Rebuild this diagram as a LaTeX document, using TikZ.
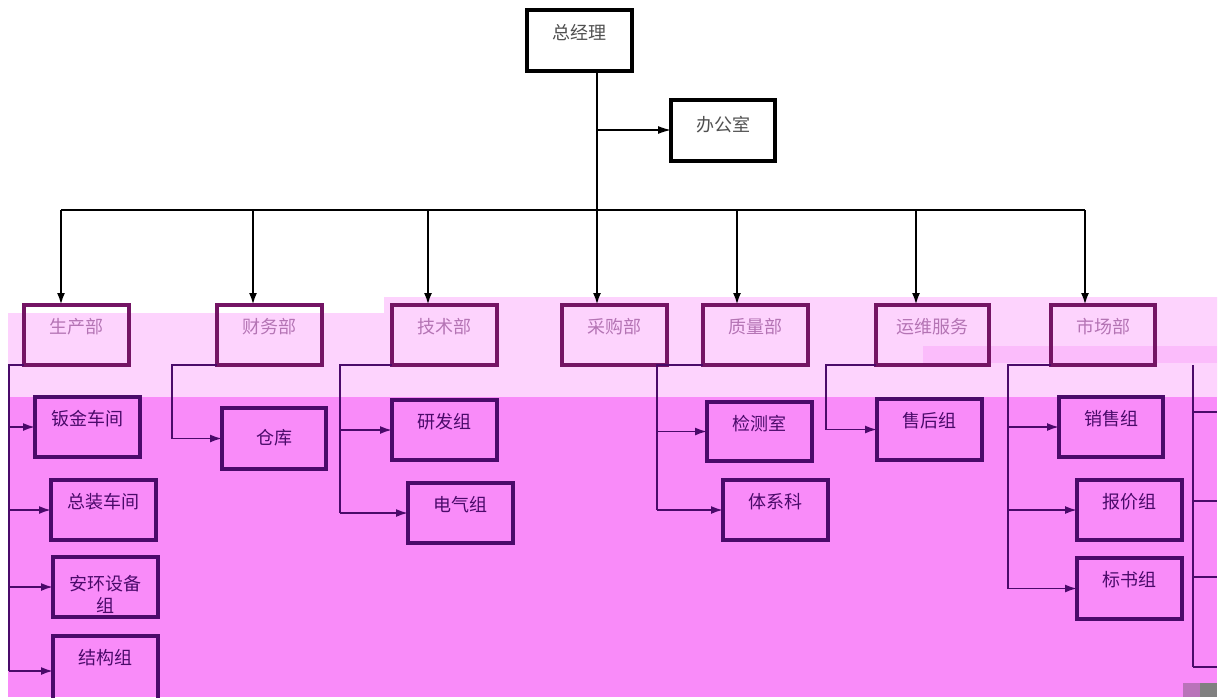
\documentclass[tikz,border=0pt]{standalone}
\usepackage{fontspec}
\newfontfamily\cjk{Noto Sans CJK SC}
\usetikzlibrary{arrows.meta}
\definecolor{lpink}{HTML}{FDD3FD}
\definecolor{mag}{HTML}{F98BF9}
\definecolor{pband}{HTML}{FBBCFB}
\definecolor{deep}{HTML}{4A0A6A}
\definecolor{dmaroon}{HTML}{741464}
\definecolor{fade}{HTML}{B474B4}
\definecolor{gtext}{HTML}{505050}
\begin{document}
\begin{tikzpicture}[x=1pt,y=-1pt,
  every node/.style={font=\cjk\fontsize{18}{22}\selectfont},
  box/.style={draw, rectangle, anchor=north west, minimum width=105pt, minimum height=60pt, inner sep=0pt, outer sep=0pt, line width=3.2pt},
  topbox/.style={box, draw=black},
  deptbox/.style={box, draw=dmaroon},
  kidbox/.style={box, draw=deep},
  toplab/.style={anchor=center, yshift=-23pt, text=gtext},
  deptlab/.style={anchor=center, yshift=-22pt, text=fade},
  kidlab/.style={anchor=center, yshift=-22pt, text=deep},
  blk/.style={draw=black, line width=2.8pt},
  blkarrow/.style={draw=black, line width=2.4pt, -{Latex[length=12pt,width=8pt]}},
  thinarrow/.style={draw=black, line width=1.4pt, -{Latex[length=13pt,width=8pt]}},
  stem/.style={draw=deep, line width=1.5pt},
  kidarrow/.style={draw=deep, line width=1.8pt, -{Latex[length=12pt,width=8pt]}},
]
\useasboundingbox (0,0) rectangle (1221,697);
% background bands
\fill[white] (0,0) rectangle (1221,697);
\fill[lpink] (8,313) -- (384,313) -- (384,297) -- (1217,297) -- (1217,397) -- (8,397) -- cycle;
\fill[pband] (923,346) rectangle (1217,363);
\fill[mag] (8,397) rectangle (1217,697);
\fill[violet!55] (1183,683) rectangle (1200,697);
\fill[gray] (1200,683) rectangle (1217,697);

% top level
\node[topbox, minimum height=61pt, label={[toplab]north:总经理}] (gm) at (527,10) {};
\node[topbox, minimum width=104pt, minimum height=61pt, label={[toplab, yshift=-2pt]north:办公室}] (off) at (671,100) {};

% departments
\node[deptbox, label={[deptlab]north:生产部}] (p1) at (24,305) {};
\node[deptbox, label={[deptlab]north:财务部}] (p2) at (217,305) {};
\node[deptbox, label={[deptlab]north:技术部}] (p3) at (392,305) {};
\node[deptbox, label={[deptlab]north:采购部}] (p4) at (562,305) {};
\node[deptbox, label={[deptlab]north:质量部}] (p5) at (703,305) {};
\node[deptbox, minimum width=113pt, label={[deptlab]north:运维服务}] (p6) at (876,305) {};
\node[deptbox, minimum width=104pt, label={[deptlab]north:市场部}] (p7) at (1051,305) {};

% children
\node[kidbox, label={[kidlab]north:钣金车间}] (c11) at (35,397) {};
\node[kidbox, label={[kidlab]north:总装车间}] (c12) at (51,480) {};
\node[kidbox, label={[kidlab, align=center, yshift=-15pt]north:安环设备\\组}] (c13) at (53,557) {};
\node[kidbox, minimum height=70pt, label={[kidlab]north:结构组}] (c14) at (53,636) {};
\node[kidbox, minimum width=104pt, minimum height=61pt, label={[kidlab, yshift=-8pt]north:仓库}] (c21) at (222,408) {};
\node[kidbox, label={[kidlab]north:研发组}] (c31) at (392,400) {};
\node[kidbox, label={[kidlab]north:电气组}] (c32) at (408,483) {};
\node[kidbox, minimum height=59pt, label={[kidlab]north:检测室}] (c51) at (707,402) {};
\node[kidbox, label={[kidlab]north:体系科}] (c52) at (723,480) {};
\node[kidbox, minimum height=61pt, label={[kidlab]north:售后组}] (c61) at (877,399) {};
\node[kidbox, minimum width=104pt, label={[kidlab]north:销售组}] (c71) at (1059,397) {};
\node[kidbox, label={[kidlab]north:报价组}] (c72) at (1077,480) {};
\node[kidbox, minimum height=61pt, label={[kidlab]north:标书组}] (c73) at (1077,558) {};

% top connectors
\coordinate (t0) at (597,210);
\coordinate (o0) at (597,130);
\draw[blk] (gm.south -| t0) -- (t0);
\draw[thinarrow] (o0) -- (o0 -| off.west);
\coordinate (d1) at (61,210);
\coordinate (d2) at (253,210);
\coordinate (d3) at (428,210);
\coordinate (d4) at (597,210);
\coordinate (d5) at (737,210);
\coordinate (d6) at (916,210);
\coordinate (d7) at (1085,210);
\draw[blk] (d1) -- (d7);
\foreach \i in {1,...,7} \draw[blkarrow] (d\i) -- (d\i |- p\i.north);

% stems
\coordinate (s1) at (9,365);
\coordinate (s2) at (172,365);
\coordinate (s3) at (340,365);
\coordinate (s5) at (657,365);
\coordinate (s6) at (826,365);
\coordinate (s7) at (1008,365);
\coordinate (s8) at (1193,365);
\draw[stem] (p1.south west) -- (s1 |- p1.south west) -- (s1 |- c14.west);
\foreach \c in {c11,c12,c13,c14} \draw[kidarrow] (s1 |- \c.west) -- (\c.west);
\draw[stem] (p2.south west) -- (s2 |- p2.south west) -- (s2 |- c21.west);
\draw[kidarrow] (s2 |- c21.west) -- (c21.west);
\draw[stem] (p3.south west) -- (s3 |- p3.south west) -- (s3 |- c32.west);
\foreach \c in {c31,c32} \draw[kidarrow] (s3 |- \c.west) -- (\c.west);
\draw[stem] (p5.south west) -- (s5 |- p5.south west) -- (s5 |- c52.west);
\foreach \c in {c51,c52} \draw[kidarrow] (s5 |- \c.west) -- (\c.west);
\draw[stem] (p6.south west) -- (s6 |- p6.south west) -- (s6 |- c61.west);
\draw[kidarrow] (s6 |- c61.west) -- (c61.west);
\draw[stem] (p7.south west) -- (s7 |- p7.south west) -- (s7 |- c73.west);
\foreach \c in {c71,c72,c73} \draw[kidarrow] (s7 |- \c.west) -- (\c.west);

% branch leaving the right edge
\coordinate (e1) at (1217,412);
\coordinate (e2) at (1217,501);
\coordinate (e3) at (1217,577);
\coordinate (e4) at (1217,667);
\draw[stem] (s8) -- (s8 |- e4);
\foreach \k in {1,...,4} \draw[stem] (s8 |- e\k) -- (e\k);
\end{tikzpicture}
\end{document}
